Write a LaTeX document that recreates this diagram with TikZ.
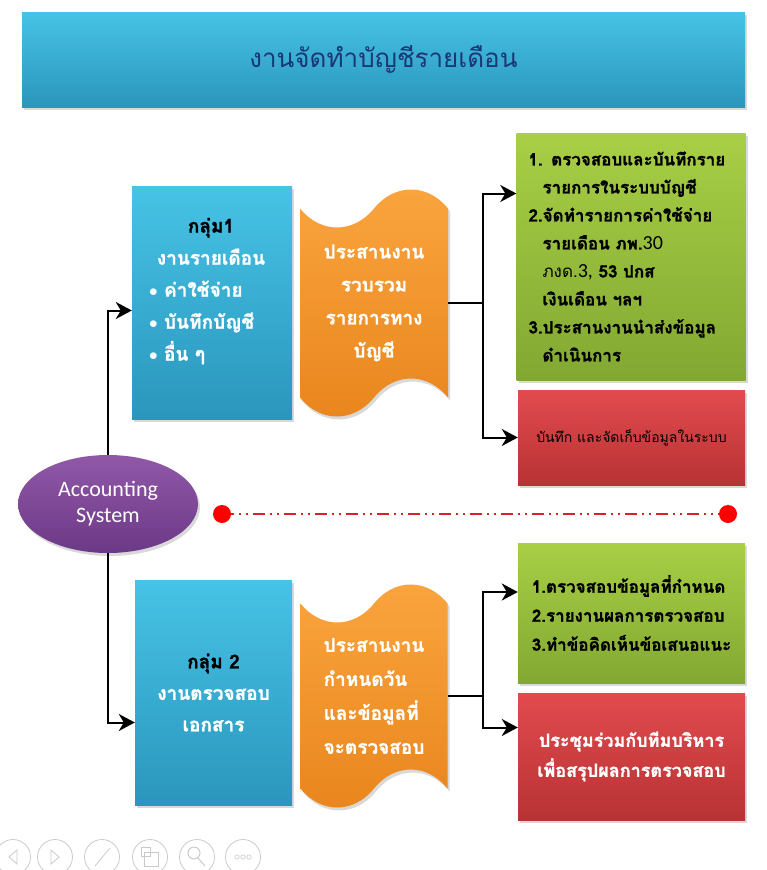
\documentclass[tikz,border=0pt]{standalone}
\usepackage{fontspec}
\newfontfamily\thai[Script=Thai, BoldFeatures = {FakeBold = 1.2}]{Loma}
\newfontfamily\calib{Carlito}
\usepackage{tikz}
\usetikzlibrary{arrows.meta}
\usetikzlibrary{shapes.geometric}
\usetikzlibrary{shapes.symbols}
\usetikzlibrary{shadows}

\definecolor{cyanTop}{HTML}{46C3E6}
\definecolor{cyanBot}{HTML}{2B96BC}
\definecolor{titleInk}{HTML}{1A3875}
\definecolor{orangeTop}{HTML}{FAA53F}
\definecolor{orangeBot}{HTML}{E9851C}
\definecolor{greenTop}{HTML}{A8CF45}
\definecolor{greenBot}{HTML}{82A832}
\definecolor{redTop}{HTML}{E24B4E}
\definecolor{redBot}{HTML}{B83234}
\definecolor{purpleTop}{HTML}{9158A8}
\definecolor{purpleBot}{HTML}{6C3987}
\definecolor{sepRed}{HTML}{D62424}
\definecolor{iconGrey}{HTML}{CACACA}

\begin{document}
\begin{tikzpicture} [x = 1pt, y = -1pt,
    panel/.style = {rectangle, inner sep = 0,
        drop shadow = {opacity = 0.3, shadow xshift = 2pt, shadow yshift = -3pt}},
    cyanpanel/.style = {panel, top color = cyanTop, bottom color = cyanBot},
    greenpanel/.style = {panel, top color = greenTop, bottom color = greenBot},
    redpanel/.style = {panel, top color = redTop, bottom color = redBot},
    tapepanel/.style = {tape, tape bend top = in and out, tape bend bottom = in and out,
        tape bend height = 38pt, inner sep = 0, top color = orangeTop, bottom color = orangeBot,
        drop shadow = {opacity = 0.3, shadow xshift = 2pt, shadow yshift = -3pt}},
    thaibold/.style 2 args = {font = \thai\bfseries\fontsize{#1}{#2}\selectfont},
    feed/.style = {-{Stealth[length = 16pt, width = 17pt, inset = 5pt]}, line width = 2pt}]
    \useasboundingbox (0, 0) rectangle (767, 870);

    % title bar
    \node[cyanpanel, minimum width = 723pt, minimum height = 95pt, text = titleInk,
        font = \thai\fontsize{26}{30}\selectfont] (title) at (383.5, 59.5)
        {งานจัดทำบัญชีรายเดือน};

    % group 1
    \node[cyanpanel, minimum width = 160pt, minimum height = 233pt] (grp1) at (212, 302.5) {};
    \node[thaibold = {19}{32}, text = white, align = center] (grp1txt) at (211, 291)
        {{\color{black}กลุ่ม1}\\ งานรายเดือน\\
        \makebox[124pt][l]{$\bullet$ ค่าใช้จ่าย}\\
        \makebox[124pt][l]{$\bullet$ บันทึกบัญชี}\\
        \makebox[124pt][l]{$\bullet$ อื่น ๆ}};
    \node[tapepanel, minimum width = 148pt, minimum height = 227pt, text = white,
        thaibold = {19}{33}, align = center] (coord1) at (374, 303)
        {ประสานงาน\\ รวบรวม\\ รายการทาง\\ บัญชี};
    \node[greenpanel, minimum width = 229pt, minimum height = 247pt, thaibold = {17}{28},
        align = left, text width = 205pt] (task1) at (631, 256.5)
        {1. ตรวจสอบและบันทึกราย\\
        \hspace*{14pt}รายการในระบบบัญชี\\
        2.จัดทำรายการค่าใช้จ่าย\\
        \hspace*{14pt}รายเดือน ภพ.{\mdseries\calib\fontsize{20}{20}\selectfont 30}\\
        \hspace*{14pt}{\mdseries ภงด.{\calib\fontsize{20}{20}\selectfont 3,}} 53 ปกส\\
        \hspace*{14pt}เงินเดือน ฯลฯ\\
        3.ประสานงานนำส่งข้อมูล\\
        \hspace*{14pt}ดำเนินการ};
    \node[redpanel, minimum width = 227pt, minimum height = 95pt,
        font = \thai\fontsize{14}{17}\selectfont] (store1) at (631.5, 437.5)
        {บันทึก และจัดเก็บข้อมูลในระบบ};

    \coordinate (fork1) at (483, 303);
    \draw[line width = 2pt] (coord1.east) -- (fork1);
    \draw[feed] (fork1) |- ([yshift = 63pt]task1.west);
    \draw[feed] (fork1) |- (store1.west);

    % group 2
    \node[cyanpanel, minimum width = 157pt, minimum height = 225pt, text = white,
        thaibold = {19}{31.5}, align = center] (grp2) at (213.5, 692.5)
        {{\color{black}กลุ่ม 2}\\ งานตรวจสอบ\\ เอกสาร};
    \node[tapepanel, minimum width = 147pt, minimum height = 223pt, text = white,
        thaibold = {19}{34}, align = left] (coord2) at (374, 696)
        {ประสานงาน\\ กำหนดวัน\\ และข้อมูลที่\\ จะตรวจสอบ};
    \node[greenpanel, minimum width = 227pt, minimum height = 140pt, thaibold = {17}{29},
        align = left] (task2) at (631.5, 613)
        {1.ตรวจสอบข้อมูลที่กำหนด\\ 2.รายงานผลการตรวจสอบ\\ 3.ทำข้อคิดเห็นข้อเสนอแนะ};
    \node[redpanel, minimum width = 227pt, minimum height = 127pt, text = white,
        thaibold = {18}{30}, align = center] (meet2) at (631.5, 756.5)
        {ประชุมร่วมกับทีมบริหาร\\ เพื่อสรุปผลการตรวจสอบ};

    \coordinate (fork2) at (483, 696);
    \draw[line width = 2pt] (coord2.east) -- (fork2);
    \draw[feed] (fork2) |- ([yshift = 21pt]task2.west);
    \draw[feed] (fork2) |- ([yshift = 29pt]meet2.west);

    % centre
    \node[ellipse, minimum width = 180pt, minimum height = 98pt, inner sep = 0,
        top color = purpleTop, bottom color = purpleBot, text = white, align = center,
        font = \calib\fontsize{22}{26}\selectfont,
        drop shadow = {opacity = 0.3, shadow xshift = 2pt, shadow yshift = -3pt}]
        (acc) at (108, 504) {Accounting\\ System};
    \draw[feed] (acc.north) |- ([yshift = -8pt]grp1.west);
    \draw[feed] (acc.south) |- ([yshift = -30pt]grp2.west);

    \coordinate (sepL) at (222, 514);
    \coordinate (sepR) at (728, 514);
    \draw[sepRed, line width = 2pt,
        dash pattern = on 12pt off 5pt on 2pt off 5pt on 2pt off 5pt] (sepL) -- (sepR);
    \fill[red] (sepL) circle (9pt) (sepR) circle (9pt);

    % slide controls
    \foreach \cx in {13, 55, 102, 150, 197, 243}
        \draw[iconGrey, line width = 0.8pt] (\cx, 857) circle (17.5pt);
    \draw[iconGrey, line width = 0.8pt] (17, 850) -- (9, 857) -- (17, 864) -- cycle;
    \draw[iconGrey, line width = 0.8pt] (51, 850) -- (59, 857) -- (51, 864) -- cycle;
    \draw[iconGrey, line width = 0.8pt] (95, 866) -- (110, 848);
    \draw[iconGrey, line width = 0.8pt] (141, 847) rectangle (150, 856)
        (144, 852) rectangle (158, 866);
    \draw[iconGrey, line width = 1pt] (194, 853) circle (6pt) (198, 858) -- (205, 866);
    \foreach \dx in {-6, 0, 6}
        \draw[iconGrey, line width = 0.7pt] (243 + \dx, 857) circle (2.2pt);
\end{tikzpicture}
\end{document}
